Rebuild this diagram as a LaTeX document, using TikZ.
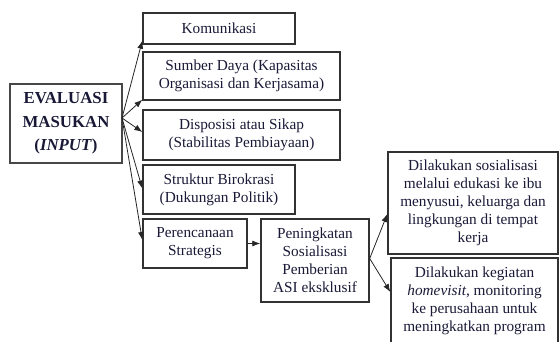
\documentclass[tikz,border=0pt]{standalone}
\usepackage{fontspec}
\setmainfont{Liberation Serif}
\usetikzlibrary{arrows.meta}
\definecolor{txt}{RGB}{25,25,55}
\definecolor{bord}{RGB}{50,50,50}
\begin{document}
\begin{tikzpicture}[x=1pt,y=-1pt,
  box/.style={draw=bord,line width=1.4pt,rectangle,inner sep=0pt,align=center,text=txt,font=\fontsize{15.3}{18}\selectfont},
  arr/.style={-{Latex[length=8pt,width=6pt]},line width=0.8pt,draw=black!85}]
\useasboundingbox (0,0) rectangle (559,342);
\node[box,line width=2.2pt,draw=bord!90,minimum width=112pt,minimum height=79pt,font=\bfseries\fontsize{16.8}{23.5}\selectfont] (eval) at (66,123.5) {EVALUASI\\MASUKAN\\(\textit{INPUT})};
\node[box,minimum width=152pt,minimum height=31pt] (kom) at (219,28.5) {Komunikasi};
\node[box,minimum width=197pt,minimum height=48pt] (sum) at (241.5,76) {Sumber Daya (Kapasitas\\Organisasi dan Kerjasama)};
\node[box,minimum width=197pt,minimum height=50pt] (dis) at (241.5,135) {Disposisi atau Sikap\\(Stabilitas Pembiayaan)};
\node[box,minimum width=152pt,minimum height=49pt] (str) at (219,189.5) {Struktur Birokrasi\\(Dukungan Politik)};
\node[box,minimum width=104pt,minimum height=49pt] (per) at (195,243.5) {Perencanaan\\Strategis};
\node[box,minimum width=108pt,minimum height=83pt] (pen) at (315,260.5) {Peningkatan\\Sosialisasi\\Pemberian\\ASI eksklusif};
\node[box,minimum width=170pt,minimum height=102pt] (sos) at (473,203) {Dilakukan sosialisasi\\melalui edukasi ke ibu\\menyusui, keluarga dan\\lingkungan di tempat\\kerja};
\node[box,minimum width=167pt,minimum height=86pt] (keg) at (474.5,301) {Dilakukan kegiatan\\\textit{homevisit}, monitoring\\ke perusahaan untuk\\meningkatkan program};
\coordinate (src) at (122,118);
\draw[arr] (src) -- ([yshift=4pt]kom.south west);
\draw[arr] (src) -- ([yshift=1pt]sum.south west);
\draw[arr] (src) -- ([yshift=3pt]dis.west);
\draw[arr] (src) -- ([yshift=1pt]str.west);
\draw[arr] (src) -- ([yshift=3.5pt]per.west);
\draw[arr] (per.east) -- (pen.west |- per.east);
\draw[arr] ([yshift=2pt]pen.east) -- ([yshift=-11pt]sos.west);
\draw[arr] ([yshift=2pt]pen.east) -- ([yshift=9pt]keg.west);
\end{tikzpicture}
\end{document}
